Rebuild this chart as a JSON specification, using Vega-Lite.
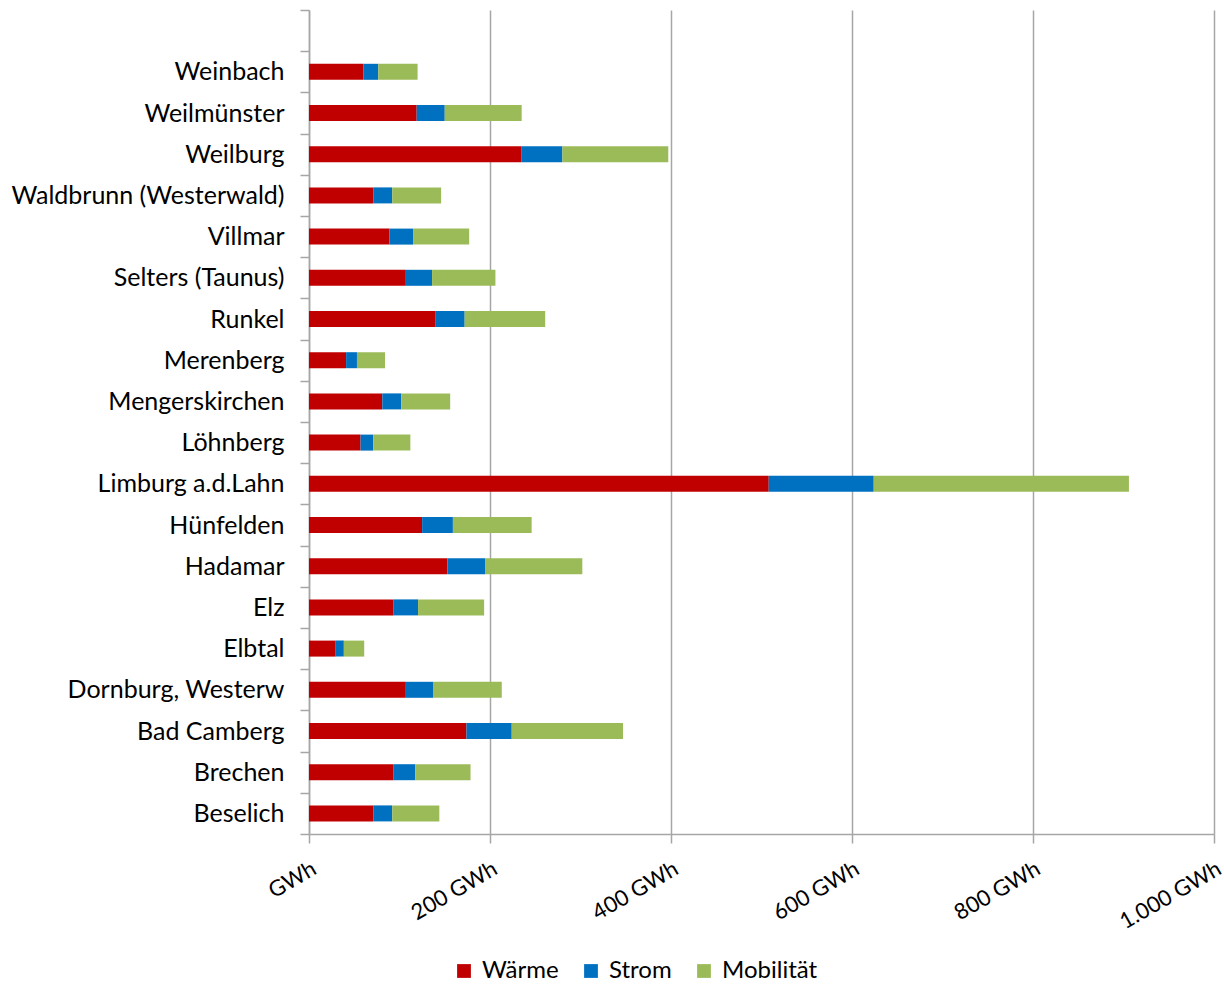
{
  "$schema": "https://vega.github.io/schema/vega-lite/v6.json",
  "autosize": {"type": "none"},
  "width": 905,
  "height": 824,
  "padding": {"left": 309, "top": 10, "right": 10, "bottom": 154},
  "background": "white",
  "config": {
    "font": "Lato",
    "view": {"stroke": null}
  },
  "data": {
    "values": [
      {"gemeinde": "Weinbach", "typ": "Wärme", "gwh": 60},
      {"gemeinde": "Weinbach", "typ": "Strom", "gwh": 16.5},
      {"gemeinde": "Weinbach", "typ": "Mobilität", "gwh": 43.5},
      {"gemeinde": "Weilmünster", "typ": "Wärme", "gwh": 119},
      {"gemeinde": "Weilmünster", "typ": "Strom", "gwh": 31},
      {"gemeinde": "Weilmünster", "typ": "Mobilität", "gwh": 85},
      {"gemeinde": "Weilburg", "typ": "Wärme", "gwh": 235},
      {"gemeinde": "Weilburg", "typ": "Strom", "gwh": 45},
      {"gemeinde": "Weilburg", "typ": "Mobilität", "gwh": 117},
      {"gemeinde": "Waldbrunn (Westerwald)", "typ": "Wärme", "gwh": 71},
      {"gemeinde": "Waldbrunn (Westerwald)", "typ": "Strom", "gwh": 21},
      {"gemeinde": "Waldbrunn (Westerwald)", "typ": "Mobilität", "gwh": 54},
      {"gemeinde": "Villmar", "typ": "Wärme", "gwh": 89},
      {"gemeinde": "Villmar", "typ": "Strom", "gwh": 26},
      {"gemeinde": "Villmar", "typ": "Mobilität", "gwh": 62},
      {"gemeinde": "Selters (Taunus)", "typ": "Wärme", "gwh": 107},
      {"gemeinde": "Selters (Taunus)", "typ": "Strom", "gwh": 29},
      {"gemeinde": "Selters (Taunus)", "typ": "Mobilität", "gwh": 70},
      {"gemeinde": "Runkel", "typ": "Wärme", "gwh": 140},
      {"gemeinde": "Runkel", "typ": "Strom", "gwh": 32},
      {"gemeinde": "Runkel", "typ": "Mobilität", "gwh": 89},
      {"gemeinde": "Merenberg", "typ": "Wärme", "gwh": 41},
      {"gemeinde": "Merenberg", "typ": "Strom", "gwh": 12},
      {"gemeinde": "Merenberg", "typ": "Mobilität", "gwh": 31},
      {"gemeinde": "Mengerskirchen", "typ": "Wärme", "gwh": 81},
      {"gemeinde": "Mengerskirchen", "typ": "Strom", "gwh": 21},
      {"gemeinde": "Mengerskirchen", "typ": "Mobilität", "gwh": 54},
      {"gemeinde": "Löhnberg", "typ": "Wärme", "gwh": 57},
      {"gemeinde": "Löhnberg", "typ": "Strom", "gwh": 14},
      {"gemeinde": "Löhnberg", "typ": "Mobilität", "gwh": 41},
      {"gemeinde": "Limburg a.d.Lahn", "typ": "Wärme", "gwh": 508},
      {"gemeinde": "Limburg a.d.Lahn", "typ": "Strom", "gwh": 116},
      {"gemeinde": "Limburg a.d.Lahn", "typ": "Mobilität", "gwh": 282},
      {"gemeinde": "Hünfelden", "typ": "Wärme", "gwh": 125},
      {"gemeinde": "Hünfelden", "typ": "Strom", "gwh": 34},
      {"gemeinde": "Hünfelden", "typ": "Mobilität", "gwh": 87},
      {"gemeinde": "Hadamar", "typ": "Wärme", "gwh": 153},
      {"gemeinde": "Hadamar", "typ": "Strom", "gwh": 42},
      {"gemeinde": "Hadamar", "typ": "Mobilität", "gwh": 107},
      {"gemeinde": "Elz", "typ": "Wärme", "gwh": 93.5},
      {"gemeinde": "Elz", "typ": "Strom", "gwh": 27},
      {"gemeinde": "Elz", "typ": "Mobilität", "gwh": 73},
      {"gemeinde": "Elbtal", "typ": "Wärme", "gwh": 29.5},
      {"gemeinde": "Elbtal", "typ": "Strom", "gwh": 9},
      {"gemeinde": "Elbtal", "typ": "Mobilität", "gwh": 22.5},
      {"gemeinde": "Dornburg, Westerw", "typ": "Wärme", "gwh": 107},
      {"gemeinde": "Dornburg, Westerw", "typ": "Strom", "gwh": 30},
      {"gemeinde": "Dornburg, Westerw", "typ": "Mobilität", "gwh": 76},
      {"gemeinde": "Bad Camberg", "typ": "Wärme", "gwh": 174},
      {"gemeinde": "Bad Camberg", "typ": "Strom", "gwh": 50},
      {"gemeinde": "Bad Camberg", "typ": "Mobilität", "gwh": 123},
      {"gemeinde": "Brechen", "typ": "Wärme", "gwh": 93.5},
      {"gemeinde": "Brechen", "typ": "Strom", "gwh": 24},
      {"gemeinde": "Brechen", "typ": "Mobilität", "gwh": 61},
      {"gemeinde": "Beselich", "typ": "Wärme", "gwh": 71},
      {"gemeinde": "Beselich", "typ": "Strom", "gwh": 21},
      {"gemeinde": "Beselich", "typ": "Mobilität", "gwh": 52}
    ]
  },
  "mark": {"type": "bar", "size": 16},
  "encoding": {
    "y": {
      "field": "gemeinde",
      "type": "nominal",
      "title": null,
      "scale": {
        "domain": [" ", "Weinbach", "Weilmünster", "Weilburg", "Waldbrunn (Westerwald)", "Villmar", "Selters (Taunus)", "Runkel", "Merenberg", "Mengerskirchen", "Löhnberg", "Limburg a.d.Lahn", "Hünfelden", "Hadamar", "Elz", "Elbtal", "Dornburg, Westerw", "Bad Camberg", "Brechen", "Beselich"],
        "paddingInner": 0,
        "paddingOuter": 0
      },
      "axis": {
        "tickBand": "extent",
        "domainColor": "#A6A6A6",
        "domainWidth": 1.5,
        "tickColor": "#A6A6A6",
        "tickWidth": 1.5,
        "tickSize": 9,
        "labelPadding": 16,
        "labelFontSize": 25,
        "labelColor": "#000000",
        "labelFont": "Lato",
        "labelLimit": 400,
        "grid": false
      }
    },
    "x": {
      "field": "gwh",
      "type": "quantitative",
      "stack": "zero",
      "title": null,
      "scale": {"domain": [0, 1000], "nice": false},
      "axis": {
        "values": [0, 200, 400, 600, 800, 1000],
        "labelExpr": "datum.value == 0 ? 'GWh' : (datum.value >= 1000 ? '1.000 GWh' : datum.value + ' GWh')",
        "labelAngle": -30,
        "labelAlign": "right",
        "labelBaseline": "top",
        "labelPadding": 15,
        "labelDx": -12,
        "labelFontSize": 22,
        "labelColor": "#000000",
        "labelFont": "Lato",
        "labelOverlap": false,
        "labelBound": false,
        "labelFlush": false,
        "grid": true,
        "gridColor": "#A6A6A6",
        "gridWidth": 1.5,
        "domainColor": "#A6A6A6",
        "domainWidth": 1.5,
        "tickColor": "#A6A6A6",
        "tickWidth": 1.5,
        "tickSize": 9
      }
    },
    "color": {
      "field": "typ",
      "type": "nominal",
      "sort": ["Wärme", "Strom", "Mobilität"],
      "scale": {
        "domain": ["Wärme", "Strom", "Mobilität"],
        "range": ["#C00000", "#0070C0", "#9BBB59"]
      },
      "legend": {
        "title": null,
        "orient": "none",
        "direction": "horizontal",
        "legendX": 143,
        "legendY": 949,
        "symbolType": "square",
        "symbolSize": 190,
        "symbolStrokeWidth": 0,
        "labelFontSize": 24,
        "labelColor": "#000000",
        "labelFont": "Lato",
        "columnPadding": 20,
        "labelOffset": 6
      }
    },
    "order": {"field": "typ", "sort": "descending"}
  }
}
